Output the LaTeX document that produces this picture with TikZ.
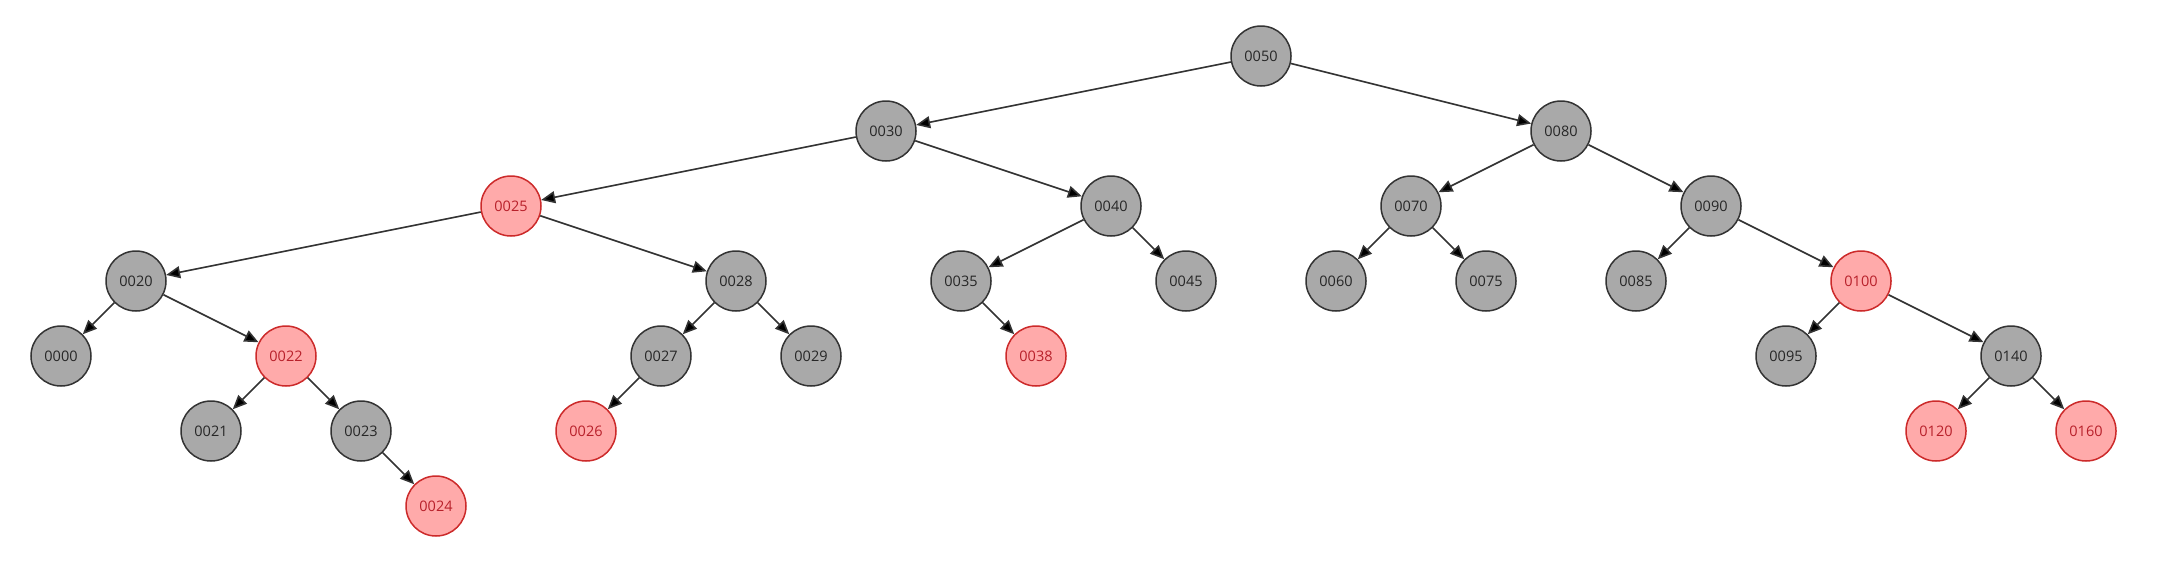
\documentclass[tikz,border=0pt]{standalone}
\usepackage{fontspec}
\setmainfont{Open Sans}
\usetikzlibrary{arrows.meta}
\definecolor{gfill}{HTML}{A9A9A9}
\definecolor{gline}{HTML}{333333}
\definecolor{rfill}{HTML}{FFAAAA}
\definecolor{rline}{HTML}{CC2A2A}
\definecolor{rtext}{HTML}{B8202A}
\tikzset{
  bnode/.style={circle, draw=gline, fill=gfill, line width=1.5pt, minimum size=60pt, inner sep=0pt, font=\fontsize{14.5}{16}\selectfont, text=black!85},
  rnode/.style={circle, draw=rline, fill=rfill, line width=1.5pt, minimum size=60pt, inner sep=0pt, font=\fontsize{14.5}{16}\selectfont, text=rtext},
  edge/.style={draw=black!80, line width=1.6pt, -{Triangle[length=14pt,width=12pt,fill=black]}}
}
\begin{document}
\begin{tikzpicture}[x=1pt,y=-1pt]
\useasboundingbox (0,0) rectangle (2173,587);
% level 0
\node[bnode] (n50) at (1261,56) {0050};
% level 1
\node[bnode] (n30) at (886,131) {0030};
\node[bnode] (n80) at (1561,131) {0080};
% level 2
\node[rnode] (n25) at (511,206) {0025};
\node[bnode] (n40) at (1111,206) {0040};
\node[bnode] (n70) at (1411,206) {0070};
\node[bnode] (n90) at (1711,206) {0090};
% level 3
\node[bnode] (n20) at (136,281) {0020};
\node[bnode] (n28) at (736,281) {0028};
\node[bnode] (n35) at (961,281) {0035};
\node[bnode] (n45) at (1186,281) {0045};
\node[bnode] (n60) at (1336,281) {0060};
\node[bnode] (n75) at (1486,281) {0075};
\node[bnode] (n85) at (1636,281) {0085};
\node[rnode] (n100) at (1861,281) {0100};
% level 4
\node[bnode] (n00) at (61,356) {0000};
\node[rnode] (n22) at (286,356) {0022};
\node[bnode] (n27) at (661,356) {0027};
\node[bnode] (n29) at (811,356) {0029};
\node[rnode] (n38) at (1036,356) {0038};
\node[bnode] (n95) at (1786,356) {0095};
\node[bnode] (n140) at (2011,356) {0140};
% level 5
\node[bnode] (n21) at (211,431) {0021};
\node[bnode] (n23) at (361,431) {0023};
\node[rnode] (n26) at (586,431) {0026};
\node[rnode] (n120) at (1936,431) {0120};
\node[rnode] (n160) at (2086,431) {0160};
% level 6
\node[rnode] (n24) at (436,506) {0024};
% edges
\draw[edge] (n50) -- (n30);
\draw[edge] (n50) -- (n80);
\draw[edge] (n30) -- (n25);
\draw[edge] (n30) -- (n40);
\draw[edge] (n80) -- (n70);
\draw[edge] (n80) -- (n90);
\draw[edge] (n25) -- (n20);
\draw[edge] (n25) -- (n28);
\draw[edge] (n40) -- (n35);
\draw[edge] (n40) -- (n45);
\draw[edge] (n70) -- (n60);
\draw[edge] (n70) -- (n75);
\draw[edge] (n90) -- (n85);
\draw[edge] (n90) -- (n100);
\draw[edge] (n20) -- (n00);
\draw[edge] (n20) -- (n22);
\draw[edge] (n28) -- (n27);
\draw[edge] (n28) -- (n29);
\draw[edge] (n35) -- (n38);
\draw[edge] (n100) -- (n95);
\draw[edge] (n100) -- (n140);
\draw[edge] (n22) -- (n21);
\draw[edge] (n22) -- (n23);
\draw[edge] (n27) -- (n26);
\draw[edge] (n140) -- (n120);
\draw[edge] (n140) -- (n160);
\draw[edge] (n23) -- (n24);
\end{tikzpicture}
\end{document}
